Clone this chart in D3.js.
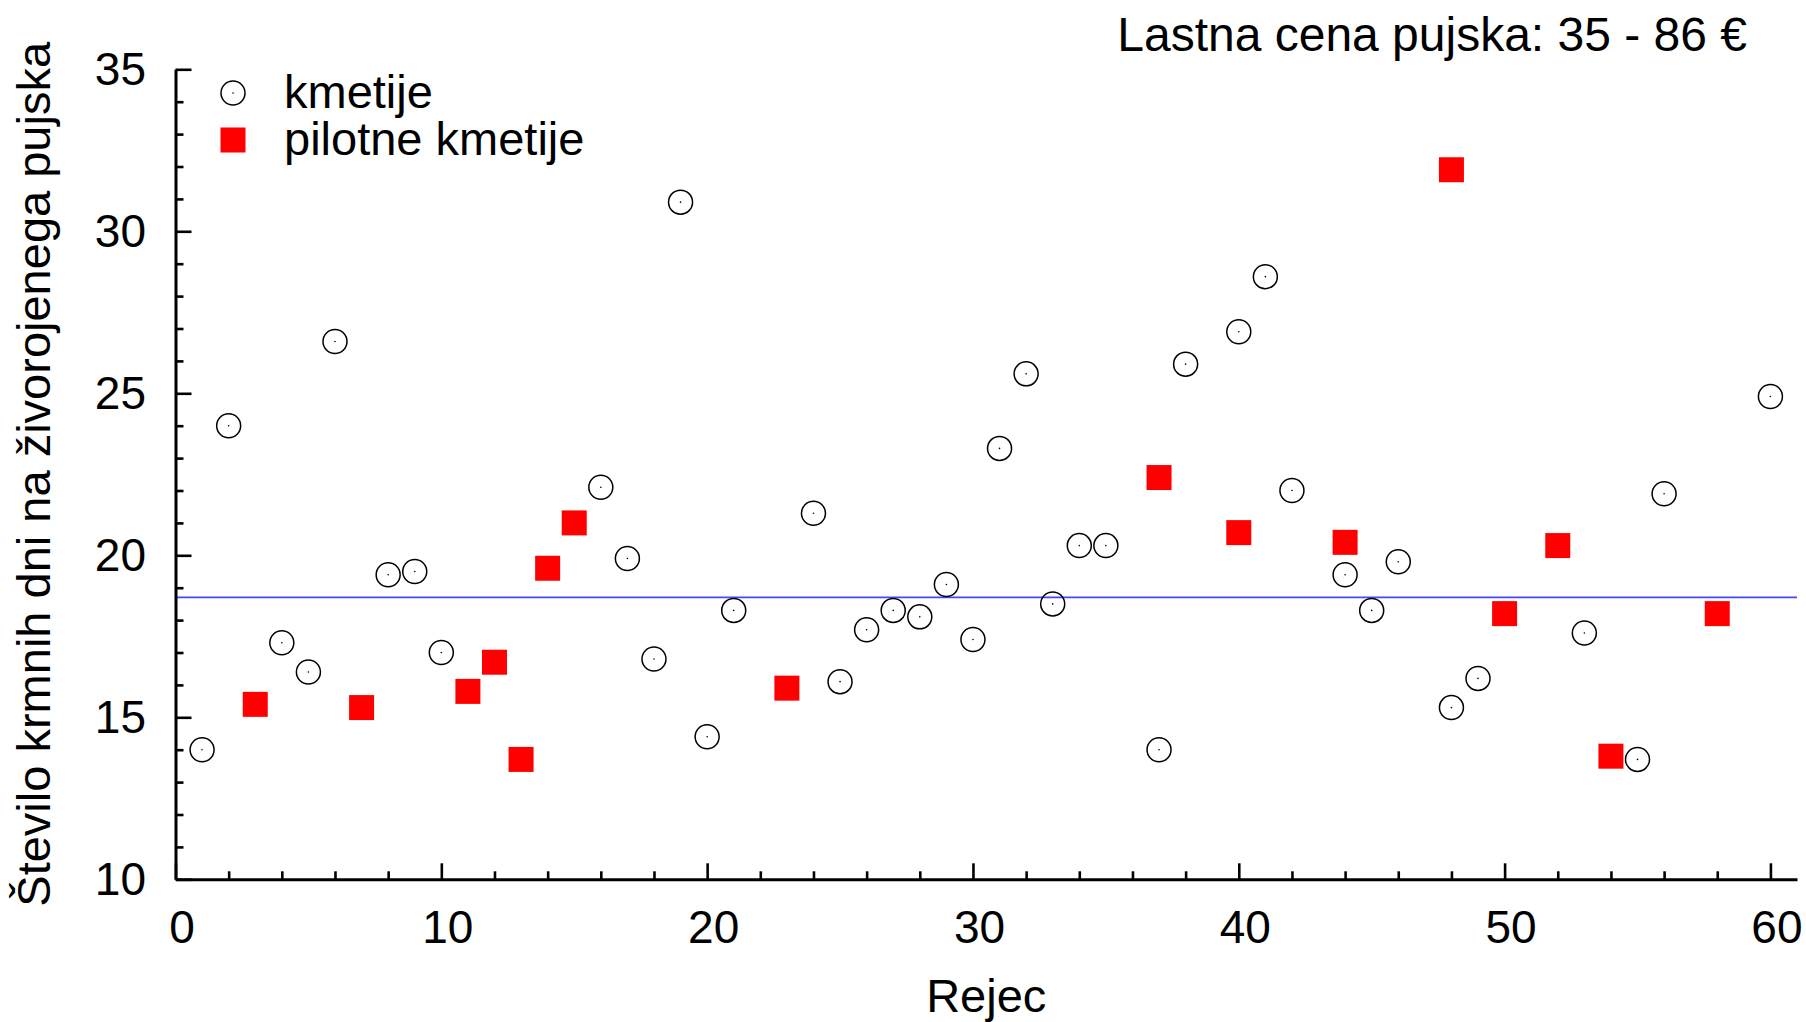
<!DOCTYPE html>
<html>
<head>
<meta charset="utf-8">
<script src="https://cdn.jsdelivr.net/npm/d3@7"></script>
<style>
  html, body { margin: 0; padding: 0; background: #fff; }
  svg { display: block; }
  text { font-family: "Liberation Sans", Arial, Helvetica, sans-serif; fill: #000; }
</style>
</head>
<body>
<script>
// ---- data ----
const farmX = [1, 2, 4, 5, 6, 8, 9, 10, 16, 17, 18, 19, 20, 21, 24, 25, 26, 27, 28, 29, 30, 31, 32, 33, 34, 35, 37, 38, 40, 41, 42, 44, 45, 46, 48, 49, 53, 55, 56, 60];
const farmY = [14.0, 24.0, 17.3, 16.4, 26.6, 19.4, 19.5, 17.0, 22.1, 19.9, 16.8, 30.9, 14.4, 18.3, 21.3, 16.1, 17.7, 18.3, 18.1, 19.1, 17.4, 23.3, 25.6, 18.5, 20.3, 20.3, 14.0, 25.9, 26.9, 28.6, 22.0, 19.4, 18.3, 19.8, 15.3, 16.2, 17.6, 13.7, 21.9, 24.9];
const pilotX = [3, 7, 11, 12, 13, 14, 15, 23, 37, 40, 44, 48, 50, 52, 54, 58];
const pilotY = [15.4, 15.3, 15.8, 16.7, 13.7, 19.6, 21.0, 15.9, 22.4, 20.7, 20.4, 31.9, 18.2, 20.3, 13.8, 18.2];
const meanValue = 18.7;
const xMajorTicks = [0, 10, 20, 30, 40, 50, 60];
const yMajorTicks = [10, 15, 20, 25, 30, 35];
const legendLabels = ["kmetije", "pilotne kmetije"];
const titleText = "Lastna cena pujska: 35 - 86 €";
const xTitle = "Rejec";
const yTitle = "Število krmnih dni na živorojenega pujska";

// ---- layout ----
const W = 1806, H = 1022;
const x = d3.scaleLinear().domain([0, 61]).range([175.5, 1797]);
const y = d3.scaleLinear().domain([10, 35]).range([879.3, 69.3]);

const svg = d3.select("body").append("svg").attr("width", W).attr("height", H);

// mean line
svg.append("line")
  .attr("x1", x(0)).attr("x2", x(61))
  .attr("y1", y(meanValue)).attr("y2", y(meanValue))
  .attr("stroke", "#4646ff").attr("stroke-width", 1.6);

// axes
const xMinor = d3.range(0, 61, 2).filter(v => v % 10 !== 0);
const yMinor = d3.range(10, 36, 1).filter(v => v % 5 !== 0);

const gxMinor = svg.append("g").attr("transform", `translate(0,${y(10)})`)
  .call(d3.axisBottom(x).tickValues(xMinor).tickSizeInner(-8).tickSizeOuter(0).tickFormat(""));
const gx = svg.append("g").attr("transform", `translate(0,${y(10)})`)
  .call(d3.axisBottom(x).tickValues(xMajorTicks).tickSizeInner(-16).tickSizeOuter(0).tickFormat(d3.format("d")));
const gyMinor = svg.append("g").attr("transform", `translate(${x(0)},0)`)
  .call(d3.axisLeft(y).tickValues(yMinor).tickSizeInner(-8).tickSizeOuter(0).tickFormat(""));
const gy = svg.append("g").attr("transform", `translate(${x(0)},0)`)
  .call(d3.axisLeft(y).tickValues(yMajorTicks).tickSizeInner(-16).tickSizeOuter(0).tickFormat(d3.format("d")));

[gxMinor, gx, gyMinor, gy].forEach(g => {
  g.selectAll("path.domain").attr("stroke", "#000").attr("stroke-width", 3);
  g.selectAll(".tick line").attr("stroke", "#000").attr("stroke-width", 2.6);
});
gxMinor.select("path.domain").remove();
gyMinor.select("path.domain").remove();

gx.selectAll(".tick text")
  .attr("y", 31).attr("dy", "0.71em").attr("dx", 6)
  .style("font-size", "46px").style("font-family", "'Liberation Sans', Arial, sans-serif").attr("fill", "#000");
gy.selectAll(".tick text")
  .attr("x", -29.5).attr("dy", "0.32em")
  .style("font-size", "46px").style("font-family", "'Liberation Sans', Arial, sans-serif").attr("fill", "#000");

// points: farms (open circles with center dot)
const farms = farmX.map((v, i) => ({ x: v, y: farmY[i] }));
const pilots = pilotX.map((v, i) => ({ x: v, y: pilotY[i] }));

const fg = svg.append("g");
fg.selectAll("circle.ring").data(farms).join("circle")
  .attr("class", "ring")
  .attr("cx", d => x(d.x)).attr("cy", d => y(d.y)).attr("r", 12)
  .attr("fill", "none").attr("stroke", "#000").attr("stroke-width", 1.5);
fg.selectAll("circle.dot").data(farms).join("circle")
  .attr("class", "dot")
  .attr("cx", d => x(d.x)).attr("cy", d => y(d.y)).attr("r", 0.8)
  .attr("fill", "#000");

// points: pilot farms (red squares)
const S = 25;
svg.append("g").selectAll("rect").data(pilots).join("rect")
  .attr("x", d => x(d.x) - S / 2).attr("y", d => y(d.y) - S / 2)
  .attr("width", S).attr("height", S).attr("fill", "#ff0000");

// legend
const lg = svg.append("g");
lg.append("circle").attr("cx", 233).attr("cy", 93).attr("r", 12)
  .attr("fill", "none").attr("stroke", "#000").attr("stroke-width", 1.5);
lg.append("circle").attr("cx", 233).attr("cy", 93).attr("r", 0.8).attr("fill", "#000");
lg.append("rect").attr("x", 233 - S / 2).attr("y", 140 - S / 2).attr("width", S).attr("height", S).attr("fill", "#ff0000");
lg.append("text").attr("x", 284).attr("y", 108).style("font-size", "47px").text(legendLabels[0]);
lg.append("text").attr("x", 284).attr("y", 155).style("font-size", "47px").text(legendLabels[1]);

// title
svg.append("text").attr("x", 1747).attr("y", 51).attr("text-anchor", "end")
  .style("font-size", "48px").text(titleText);

// axis titles
svg.append("text").attr("x", (x(0) + x(61)) / 2).attr("y", 1012).attr("text-anchor", "middle")
  .style("font-size", "47px").text(xTitle);
svg.append("text").attr("transform", `translate(50,${(y(10) + y(35)) / 2}) rotate(-90)`)
  .attr("text-anchor", "middle").style("font-size", "47px").text(yTitle);
</script>
</body>
</html>
